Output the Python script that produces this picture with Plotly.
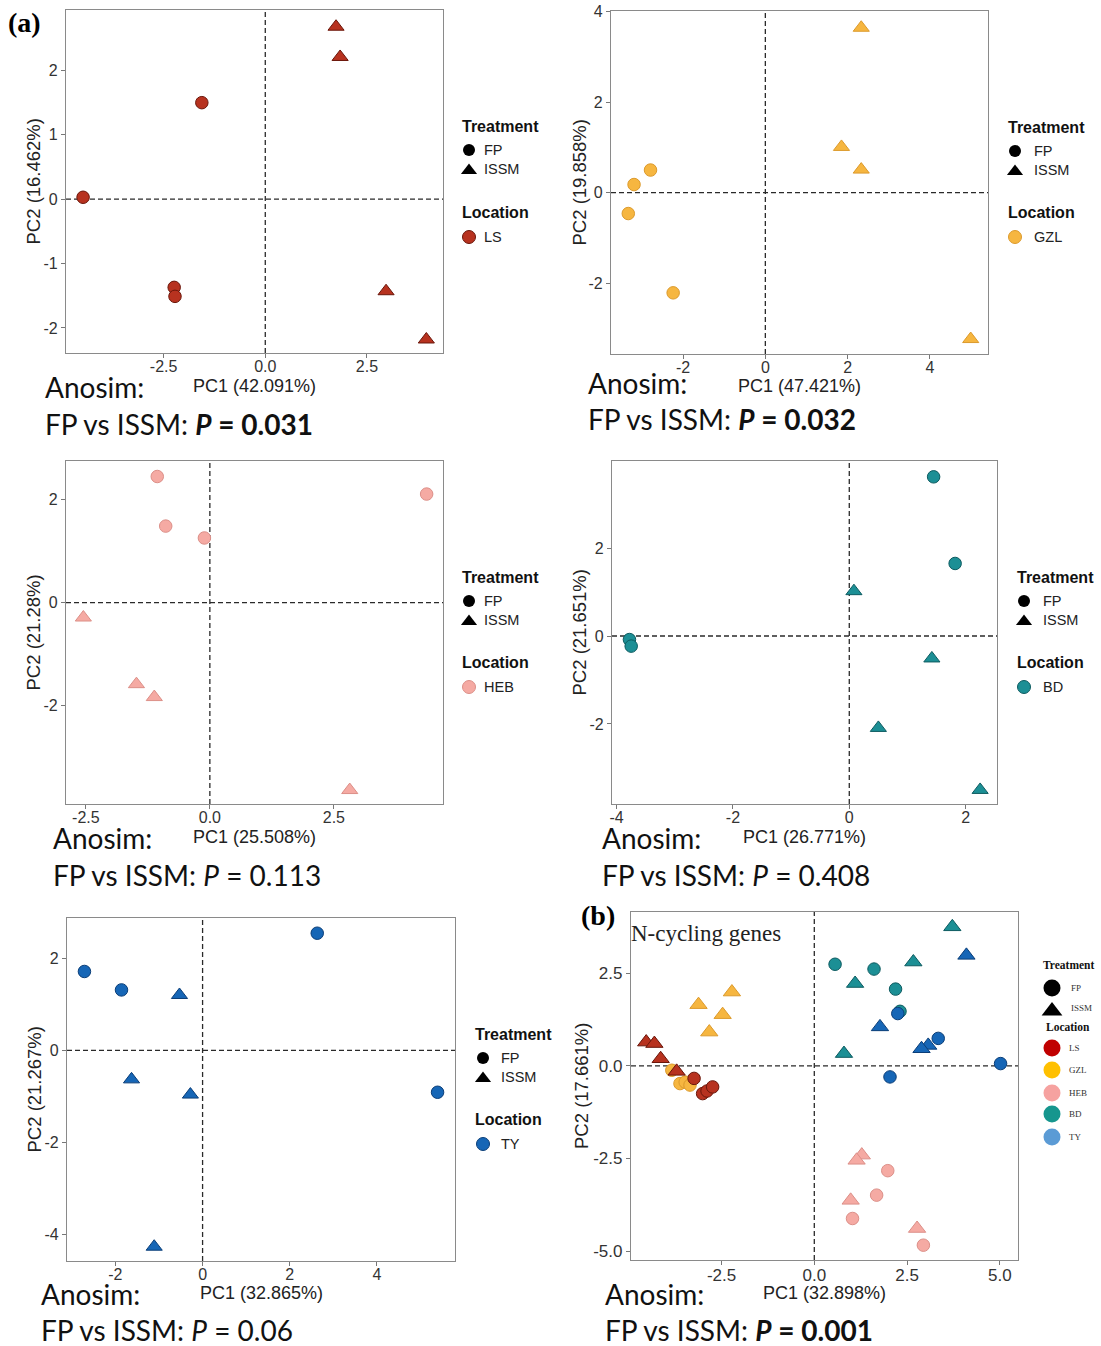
import plotly.graph_objects as go

W, H = 1101, 1346

# ---------------- PCA scores (PC1, PC2) by location and treatment ----------------
ls_fp_pc1 = [-4.48, -1.56, -2.24, -2.22]
ls_fp_pc2 = [0.03, 1.50, -1.37, -1.51]
ls_issm_pc1 = [1.74, 1.84, 2.97, 3.96]
ls_issm_pc2 = [2.68, 2.21, -1.43, -2.18]

gzl_fp_pc1 = [-2.79, -3.19, -3.33, -2.24]
gzl_fp_pc2 = [0.50, 0.18, -0.46, -2.21]
gzl_issm_pc1 = [2.33, 1.85, 2.33, 4.99]
gzl_issm_pc2 = [3.64, 1.01, 0.51, -3.23]

heb_fp_pc1 = [-1.06, -0.89, -0.11, 4.37]
heb_fp_pc2 = [2.44, 1.48, 1.25, 2.10]
heb_issm_pc1 = [-2.55, -1.48, -1.12, 2.82]
heb_issm_pc2 = [-0.29, -1.58, -1.83, -3.63]

bd_fp_pc1 = [1.45, 1.82, -3.78, -3.75]
bd_fp_pc2 = [3.62, 1.65, -0.08, -0.23]
bd_issm_pc1 = [0.08, 1.42, 0.50, 2.25]
bd_issm_pc2 = [1.02, -0.51, -2.09, -3.50]

ty_fp_pc1 = [2.63, -2.71, -1.86, 5.39]
ty_fp_pc2 = [2.54, 1.71, 1.31, -0.91]
ty_issm_pc1 = [-0.53, -1.63, -0.28, -1.11]
ty_issm_pc2 = [1.20, -0.63, -0.96, -4.26]

# all five locations together (N-cycling genes)
all_gzl_fp_pc1 = [-3.84, -3.62, -3.48, -3.35]
all_gzl_fp_pc2 = [-0.12, -0.48, -0.44, -0.52]
all_gzl_issm_pc1 = [-3.12, -2.22, -2.47, -2.83]
all_gzl_issm_pc2 = [1.65, 1.99, 1.38, 0.91]
all_ls_fp_pc1 = [-3.24, -3.01, -2.89, -2.74]
all_ls_fp_pc2 = [-0.34, -0.75, -0.68, -0.57]
all_ls_issm_pc1 = [-4.53, -4.31, -4.14, -3.71]
all_ls_issm_pc2 = [0.64, 0.60, 0.19, -0.15]
all_heb_fp_pc1 = [1.98, 1.68, 1.03, 2.94]
all_heb_fp_pc2 = [-2.83, -3.49, -4.12, -4.84]
all_heb_issm_pc1 = [1.28, 1.14, 0.98, 2.77]
all_heb_issm_pc2 = [-2.41, -2.55, -3.63, -4.39]
all_bd_fp_pc1 = [0.56, 1.61, 2.19, 2.31]
all_bd_fp_pc2 = [2.74, 2.61, 2.07, 1.47]
all_bd_issm_pc1 = [3.72, 2.67, 1.10, 0.80]
all_bd_issm_pc2 = [3.75, 2.80, 2.22, 0.33]
all_ty_fp_pc1 = [2.25, 3.34, 2.04, 5.02]
all_ty_fp_pc2 = [1.41, 0.74, -0.30, 0.06]
all_ty_issm_pc1 = [4.10, 1.77, 3.07, 2.89]
all_ty_issm_pc2 = [2.98, 1.05, 0.55, 0.46]

locations = ["LS", "GZL", "HEB", "BD", "TY"]
pc1_titles = ["PC1 (42.091%)", "PC1 (47.421%)", "PC1 (25.508%)",
              "PC1 (26.771%)", "PC1 (32.865%)", "PC1 (32.898%)"]
pc2_titles = ["PC2 (16.462%)", "PC2 (19.858%)", "PC2 (21.28%)",
              "PC2 (21.651%)", "PC2 (21.267%)", "PC2 (17.661%)"]
p_values = ["0.031", "0.032", "0.113", "0.408", "0.06", "0.001"]
p_significant = [True, True, False, False, False, True]

x_ticks = [[-2.5, 0, 2.5], [-2, 0, 2, 4], [-2.5, 0, 2.5], [-4, -2, 0, 2],
           [-2, 0, 2, 4], [-2.5, 0, 2.5, 5]]
x_ticklabels = [["-2.5", "0.0", "2.5"], ["-2", "0", "2", "4"], ["-2.5", "0.0", "2.5"],
                ["-4", "-2", "0", "2"], ["-2", "0", "2", "4"], ["-2.5", "0.0", "2.5", "5.0"]]
y_ticks = [[-2, -1, 0, 1, 2], [-2, 0, 2, 4], [-2, 0, 2], [-2, 0, 2],
           [-4, -2, 0, 2], [-5, -2.5, 0, 2.5]]
y_ticklabels = [["-2", "-1", "0", "1", "2"], ["-2", "0", "2", "4"], ["-2", "0", "2"],
                ["-2", "0", "2"], ["-4", "-2", "0", "2"], ["-5.0", "-2.5", "0.0", "2.5"]]

# ---------------- styling ----------------
SANS = "Liberation Sans, Arial, sans-serif"
SERIF = "Liberation Serif, Times New Roman, serif"
BODY = "Lato, Open Sans, sans-serif"

fill = {"LS": "#B7321F", "GZL": "#F6B640", "HEB": "#F5AAA3", "BD": "#1C8F95", "TY": "#1666B6"}
edge = {"LS": "#6A160A", "GZL": "#DC9A2C", "HEB": "#DC8F88", "BD": "#0D5B60", "TY": "#0B3E78"}
legend_fill_all = {"LS": "#C00000", "GZL": "#FFC000", "HEB": "#F6A2A0", "BD": "#16968E", "TY": "#5B9BD5"}

# panel boxes in pixels: (left, top, right, bottom)
boxes = [(66, 10, 443, 353), (611, 11, 988, 354), (66, 461, 443, 804),
         (612, 461, 997, 804), (67, 918, 455, 1261), (631, 912, 1018, 1260)]
x_ranges = [(-4.90, 4.37), (-3.75, 5.41), (-2.90, 4.70), (-4.08, 2.54), (-3.11, 5.79), (-4.94, 5.49)]
y_ranges = [(-2.39, 2.94), (-3.56, 4.01), (-3.90, 2.74), (-3.82, 3.98), (-4.57, 2.87), (-5.24, 4.15)]


def px(x):
    return x / W


def py(y):
    return 1 - y / H


fig = go.Figure()


def add_points(i, loc, xs, ys, symbol, size, lw=1.0):
    suffix = "" if i == 0 else str(i + 1)
    fig.add_trace(go.Scatter(
        x=xs, y=ys, mode="markers", xaxis="x" + suffix, yaxis="y" + suffix,
        showlegend=False, hoverinfo="skip", cliponaxis=False,
        marker=dict(symbol=symbol, size=size, color=fill[loc],
                    line=dict(color=edge[loc], width=lw))))


single = [
    ("LS", ls_fp_pc1, ls_fp_pc2, ls_issm_pc1, ls_issm_pc2),
    ("GZL", gzl_fp_pc1, gzl_fp_pc2, gzl_issm_pc1, gzl_issm_pc2),
    ("HEB", heb_fp_pc1, heb_fp_pc2, heb_issm_pc1, heb_issm_pc2),
    ("BD", bd_fp_pc1, bd_fp_pc2, bd_issm_pc1, bd_issm_pc2),
    ("TY", ty_fp_pc1, ty_fp_pc2, ty_issm_pc1, ty_issm_pc2),
]
for i, (loc, fx, fy, tx, ty) in enumerate(single):
    add_points(i, loc, fx, fy, "circle", 12.5)
    add_points(i, loc, tx, ty, "triangle-up", 14)

combined = [
    ("GZL", all_gzl_fp_pc1, all_gzl_fp_pc2, all_gzl_issm_pc1, all_gzl_issm_pc2),
    ("LS", all_ls_fp_pc1, all_ls_fp_pc2, all_ls_issm_pc1, all_ls_issm_pc2),
    ("HEB", all_heb_fp_pc1, all_heb_fp_pc2, all_heb_issm_pc1, all_heb_issm_pc2),
    ("BD", all_bd_fp_pc1, all_bd_fp_pc2, all_bd_issm_pc1, all_bd_issm_pc2),
    ("TY", all_ty_fp_pc1, all_ty_fp_pc2, all_ty_issm_pc1, all_ty_issm_pc2),
]
for loc, fx, fy, tx, ty in combined:
    add_points(5, loc, fx, fy, "circle", 12.5)
    add_points(5, loc, tx, ty, "triangle-up", 15)

layout_axes = {}
shapes = []
for i in range(6):
    l, t, r, b = boxes[i]
    suffix = "" if i == 0 else str(i + 1)
    tick_size = 17 if i == 5 else 16
    common = dict(showgrid=False, zeroline=False, showline=True, mirror=True,
                  linecolor="#8a8a8a", linewidth=1.2, ticks="outside", ticklen=4,
                  tickwidth=1, tickcolor="#777777", automargin=False,
                  tickfont=dict(family=SANS, size=tick_size, color="#333333"),
                  fixedrange=True)
    layout_axes["xaxis" + suffix] = dict(
        domain=[px(l), px(r)], range=list(x_ranges[i]), anchor="y" + suffix,
        tickvals=x_ticks[i], ticktext=x_ticklabels[i], ticklabelstandoff=-5, **common)
    layout_axes["yaxis" + suffix] = dict(
        domain=[py(b), py(t)], range=list(y_ranges[i]), anchor="x" + suffix,
        tickvals=y_ticks[i], ticktext=y_ticklabels[i], **common)
    # dashed reference lines through the origin
    shapes.append(dict(type="line", xref="x" + suffix, yref="y" + suffix + " domain",
                       x0=0, x1=0, y0=0, y1=1, layer="below",
                       line=dict(color="#2a2a2a", width=1.3, dash="5px,3px")))
    shapes.append(dict(type="line", xref="x" + suffix + " domain", yref="y" + suffix,
                       x0=0, x1=1, y0=0, y1=0, layer="below",
                       line=dict(color="#2a2a2a", width=1.3, dash="5px,3px")))

# overlay axis in pixel units for legend glyphs
layout_axes["xaxis7"] = dict(domain=[0, 1], range=[0, W], visible=False, anchor="y7",
                             fixedrange=True, automargin=False)
layout_axes["yaxis7"] = dict(domain=[0, 1], range=[H, 0], visible=False, anchor="x7",
                             fixedrange=True, automargin=False)


def glyph(x, y, symbol, size, color, line_color=None, lw=0):
    fig.add_trace(go.Scatter(
        x=[x], y=[y], mode="markers", xaxis="x7", yaxis="y7", showlegend=False,
        hoverinfo="skip",
        marker=dict(symbol=symbol, size=size, color=color,
                    line=dict(color=line_color or color, width=lw))))


annotations = []


def text(s, x, y, size, family=SANS, color="#111111", xanchor="left", yanchor="middle", angle=0):
    annotations.append(dict(text=s, x=px(x), y=py(y), xref="paper", yref="paper",
                            showarrow=False, xanchor=xanchor, yanchor=yanchor,
                            borderpad=0, textangle=angle,
                            font=dict(family=family, size=size, color=color)))


# axis titles
pc1_y = [386, 386, 837, 837, 1293, 1293]
pc2_x = [33, 579, 33, 579, 34, 581]
for i in range(6):
    l, t, r, b = boxes[i]
    text(pc1_titles[i], (l + r) / 2, pc1_y[i], 18, color="#222222", xanchor="center")
    text(pc2_titles[i], pc2_x[i], (t + b) / 2, 18.5, color="#222222", xanchor="center", angle=-90)

# ANOSIM statistics under each panel
anosim_pos = [(44, 387, 424), (587, 383, 419), (52, 838, 875),
              (601, 838, 875), (40, 1294, 1330), (604, 1294, 1330)]
for i, (x0, y1, y2) in enumerate(anosim_pos):
    text("Anosim:", x0, y1, 28, family=BODY, color="#111111")
    if p_significant[i]:
        s = "FP vs ISSM: <b><i>P</i> = " + p_values[i] + "</b>"
    else:
        s = "FP vs ISSM: <i>P</i> = " + p_values[i]
    text(s, x0, y2, 28, family=BODY, color="#111111")

# per-location legends
legend_pos = [(461, 469, 483, 126, 150, 169, 212, 237),
              (1007, 1015, 1033, 127, 151, 170, 212, 237),
              (461, 469, 483, 577, 601, 620, 662, 687),
              (1016, 1024, 1042, 577, 601, 620, 662, 687),
              (474, 483, 500, 1034, 1058, 1077, 1119, 1144)]
for i, (tx, sx, lx, yt, yf, yi, yl, yloc) in enumerate(legend_pos):
    loc = locations[i]
    text("<b>Treatment</b>", tx, yt, 16)
    glyph(sx, yf, "circle", 12, "#000000")
    text("FP", lx, yf, 14.5, color="#222222")
    glyph(sx, yi + 1.5, "triangle-up", 14, "#000000")
    text("ISSM", lx, yi, 14.5, color="#222222")
    text("<b>Location</b>", tx, yl, 16)
    glyph(sx, yloc, "circle", 13, fill[loc], edge[loc], 1)
    text(loc, lx, yloc, 14.5, color="#222222")

# legend of the combined panel
text("<b>Treatment</b>", 1068, 965, 11.5, family=SERIF, xanchor="center")
glyph(1052, 988, "circle", 17, "#000000")
text("FP", 1070, 988, 9, family=SERIF, color="#333333")
glyph(1052, 1011, "triangle-up", 18, "#000000")
text("ISSM", 1070, 1008, 9, family=SERIF, color="#333333")
text("<b>Location</b>", 1068, 1027, 11.5, family=SERIF, xanchor="center")
for j, loc in enumerate(locations):
    yy = [1048, 1070, 1093, 1114, 1137][j]
    glyph(1052, yy, "circle", 17, legend_fill_all[loc])
    text(loc, 1068, yy, 9, family=SERIF, color="#333333")

# panel labels and title
text("<b>(a)</b>", 7, 22, 28, family=SERIF, color="#000000")
text("<b>(b)</b>", 580, 915, 28, family=SERIF, color="#000000")
text("N-cycling genes", 630, 933, 23, family=SERIF, color="#222222")

fig.update_layout(
    template="none",
    width=W, height=H, margin=dict(l=0, r=0, t=0, b=0, pad=0, autoexpand=False),
    paper_bgcolor="white", plot_bgcolor="rgba(0,0,0,0)",
    showlegend=False, shapes=shapes, annotations=annotations,
    **layout_axes)

fig.write_html("out.html")
